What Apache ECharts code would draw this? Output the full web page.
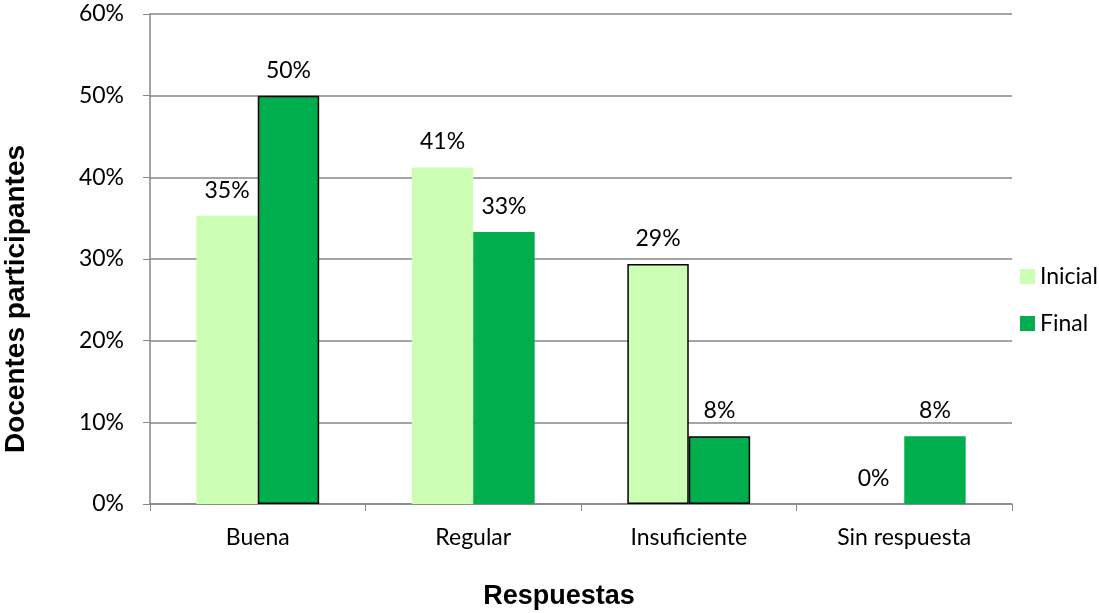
<!DOCTYPE html>
<html>
<head>
<meta charset="utf-8">
<style>
  html, body { margin: 0; padding: 0; background: #fff; }
  #chart { width: 1099px; height: 613px; }
</style>
<script src="https://cdn.jsdelivr.net/npm/echarts@6/dist/echarts.min.js"></script>
</head>
<body>
<div id="chart"></div>
<script>
// categorias y valores (%)
var categories = ["Buena", "Regular", "Insuficiente", "Sin respuesta"];
var inicial = [35.3, 41.2, 29.4, 0];
var final = [50, 33.3, 8.3, 8.3];
// barras con borde negro
var bordeInicial = [false, false, true, false];
var bordeFinal = [true, false, true, false];

var txtFont = "Lato, 'Open Sans', sans-serif";
var titleFont = "Arial, 'Liberation Sans', sans-serif";

function toData(values, bordes) {
  return values.map(function (v, i) {
    var d = { value: v };
    if (bordes[i]) {
      d.itemStyle = { borderColor: "#000", borderWidth: 1.5 };
    }
    return d;
  });
}

var labelCfg = {
  show: true,
  position: "top",
  distance: 14,
  color: "#000",
  fontSize: 23,
  fontFamily: txtFont,
  formatter: function (p) { return Math.round(p.value) + "%"; }
};

var myChart = echarts.init(document.getElementById("chart"));
var option = {
  animation: false,
  grid: { left: 150, right: 87, top: 14, bottom: 109, outerBoundsMode: "none" },
  legend: {
    orient: "vertical",
    left: 1015,
    top: 260,
    itemWidth: 15,
    itemHeight: 15,
    itemGap: 24,
    icon: "rect",
    textStyle: { fontSize: 23, fontFamily: txtFont, color: "#000" },
    data: ["Inicial", "Final"]
  },
  xAxis: {
    type: "category",
    data: categories,
    name: "Respuestas",
    nameLocation: "middle",
    nameGap: 79,
    nameTextStyle: {
      fontSize: 27, fontWeight: "bold", fontFamily: titleFont, color: "#000",
      padding: [0, 44, 0, 0]
    },
    axisLine: { lineStyle: { color: "#868686", width: 1.5 } },
    axisTick: { show: true, length: 7, lineStyle: { color: "#868686" } },
    axisLabel: { fontSize: 23, fontFamily: txtFont, color: "#000", margin: 22 }
  },
  yAxis: {
    type: "value",
    min: 0,
    max: 60,
    interval: 10,
    name: "Docentes participantes",
    nameLocation: "middle",
    nameGap: 120,
    nameTextStyle: {
      fontSize: 28, fontWeight: "bold", fontFamily: titleFont, color: "#000",
      padding: [0, 80, 0, 0]
    },
    axisLine: { show: true, lineStyle: { color: "#868686", width: 1.5 } },
    axisTick: { show: true, length: 7, lineStyle: { color: "#868686" } },
    axisLabel: { fontSize: 23, fontFamily: txtFont, color: "#000", margin: 26, formatter: "{value}%" },
    splitLine: { lineStyle: { color: "#868686", width: 1.5 } }
  },
  series: [
    {
      name: "Inicial",
      type: "bar",
      data: toData(inicial, bordeInicial),
      barGap: "0%",
      barCategoryGap: "43%",
      itemStyle: { color: "#ccffb4" },
      label: labelCfg
    },
    {
      name: "Final",
      type: "bar",
      data: toData(final, bordeFinal),
      itemStyle: { color: "#00ae4e" },
      label: labelCfg
    }
  ]
};
myChart.setOption(option);
</script>
</body>
</html>
